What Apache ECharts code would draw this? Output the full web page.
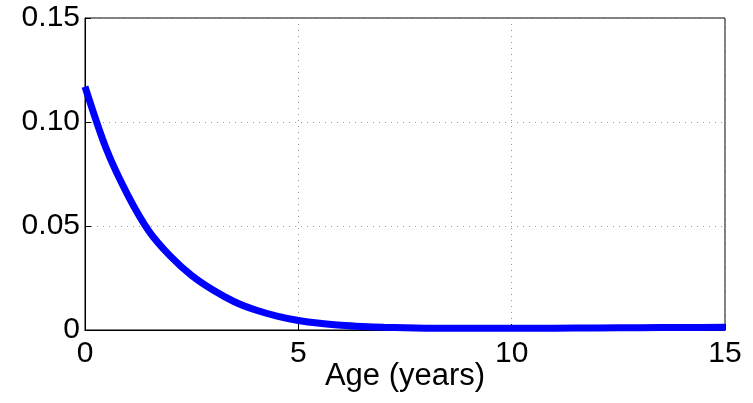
<!DOCTYPE html>
<html>
<head>
<meta charset="utf-8">
<script src="https://cdn.jsdelivr.net/npm/echarts@6/dist/echarts.min.js"></script>
<style>
  html, body { margin: 0; padding: 0; background: #fff; }
  #chart { width: 753px; height: 403px; }
</style>
</head>
<body>
<div id="chart"></div>
<script>
// Age in years and the corresponding curve value
var ages = [0, 0.5, 1, 1.5, 2, 2.5, 3, 3.5, 4, 4.5, 5, 5.5, 6, 6.5, 7, 8, 9, 10, 11, 12, 13, 14, 15];
var values = [0.117, 0.087, 0.065, 0.0475, 0.0355, 0.0262, 0.0192, 0.0136, 0.0096, 0.0067, 0.0046,
              0.0032, 0.0023, 0.0017, 0.0013, 0.0009, 0.0008, 0.0008, 0.0009, 0.0010, 0.0011, 0.0012, 0.0013];

// Axis tick labels
var xTicks = ['0', '5', '10', '15'];
var yTicks = ['0', '0.05', '0.10', '0.15'];

var FONT = '"Liberation Sans", Arial, Helvetica, sans-serif';

var points = ages.map(function (a, i) { return [a, values[i]]; });

var chart = echarts.init(document.getElementById('chart'), null, { renderer: 'canvas' });

var gridLine = { show: true, lineStyle: { color: '#9a9a9a', width: 1, type: [1, 5] } };

chart.setOption({
  animation: false,
  backgroundColor: '#ffffff',
  grid: {
    left: 85, right: 28, top: 18, bottom: 73,
    containLabel: false,
    outerBoundsMode: 'none',
    show: true, borderColor: '#000', borderWidth: 1, backgroundColor: 'transparent'
  },
  xAxis: {
    type: 'value', min: 0, max: 15, interval: 5,
    name: 'Age (years)', nameLocation: 'middle', nameGap: 31,
    nameMoveOverlap: false,
    nameTextStyle: { fontFamily: FONT, fontSize: 31, color: '#000', verticalAlign: 'top' },
    axisLine: { show: true, lineStyle: { color: '#000', width: 1 } },
    axisTick: { show: true, inside: true, length: 6, lineStyle: { color: '#000' } },
    axisLabel: {
      fontFamily: FONT, fontSize: 30, color: '#000', margin: 9,
      formatter: function (v) { return xTicks[Math.round(v / 5)]; }
    },
    splitLine: gridLine
  },
  yAxis: {
    type: 'value', min: 0, max: 0.15, interval: 0.05,
    axisLine: { show: true, lineStyle: { color: '#000', width: 1 } },
    axisTick: { show: true, inside: true, length: 6, lineStyle: { color: '#000' } },
    axisLabel: {
      fontFamily: FONT, fontSize: 30, color: '#000', margin: 5,
      formatter: function (v) { return yTicks[Math.round(v / 0.05)]; }
    },
    splitLine: gridLine
  },
  series: [{
    type: 'line',
    data: points,
    smooth: 0.3,
    showSymbol: false,
    lineStyle: { color: '#0000ff', width: 7 },
    z: 3
  }]
});
</script>
</body>
</html>
